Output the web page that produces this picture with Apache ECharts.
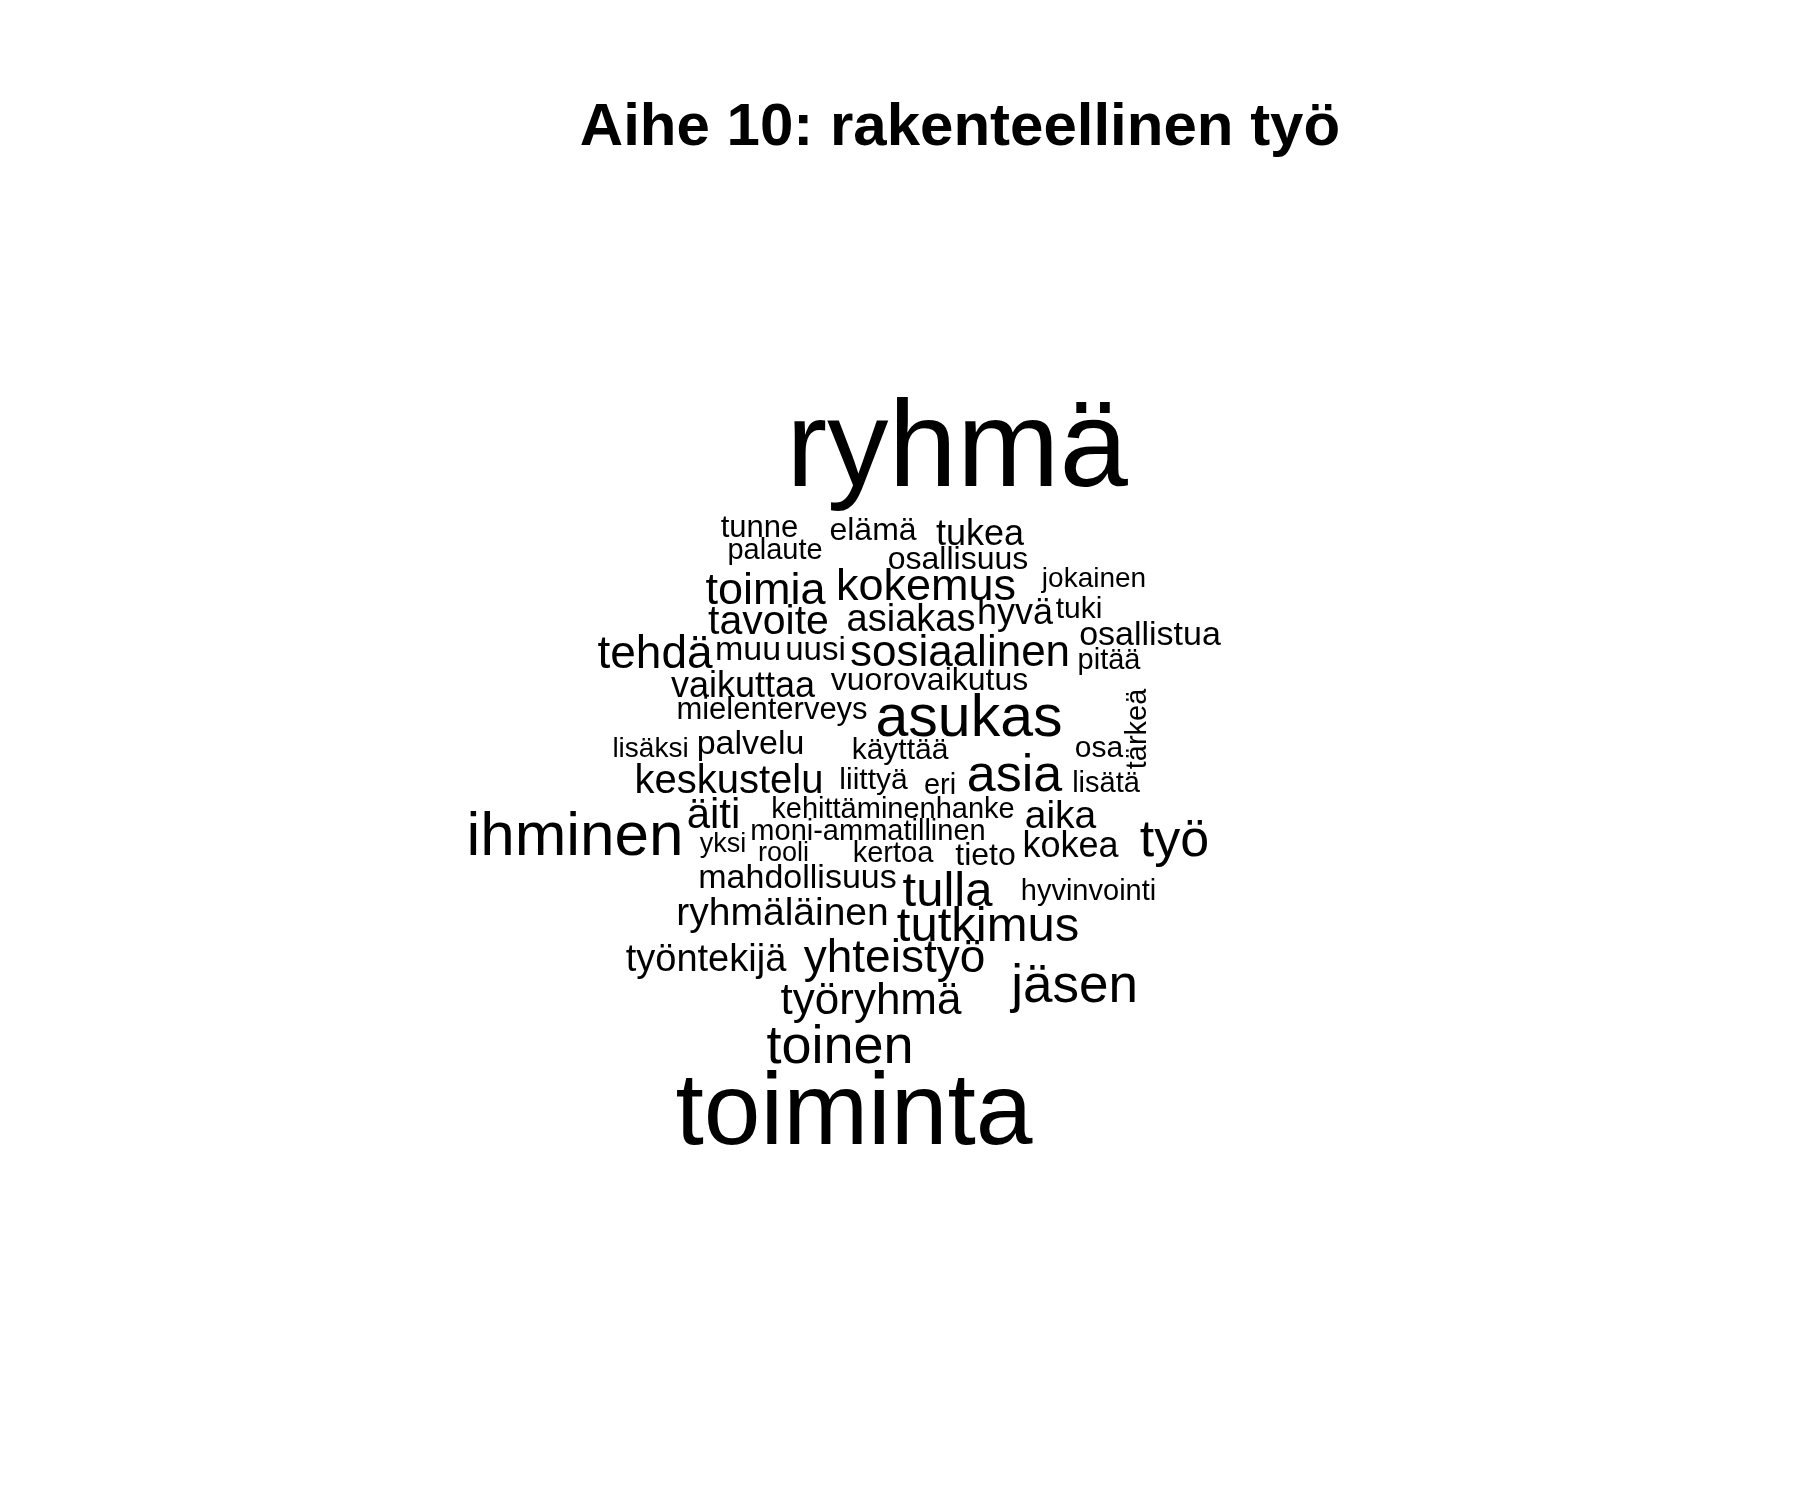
<!DOCTYPE html>
<html>
<head>
<meta charset="utf-8">
<script src="https://cdn.jsdelivr.net/npm/echarts@6/dist/echarts.min.js"></script>
<style>html,body{margin:0;padding:0;background:#fff}#c{width:1800px;height:1500px}</style>
</head>
<body>
<div id="c"></div>
<script>
// ---- data ----
const titleText = 'Aihe 10: rakenteellinen työ';
const words = ['ryhmä','toiminta','tunne','elämä','tukea','palaute','osallisuus','jokainen','toimia','kokemus',
  'tuki','tavoite','asiakas','hyvä','osallistua','pitää','tehdä','muu','uusi','sosiaalinen',
  'vaikuttaa','vuorovaikutus','mielenterveys','asukas','tärkeä','lisäksi','palvelu','käyttää','osa','asia',
  'keskustelu','liittyä','eri','lisätä','ihminen','äiti','kehittäminenhanke','aika','työ','moni-ammatillinen',
  'yksi','rooli','kertoa','tieto','kokea','mahdollisuus','tulla','hyvinvointi','ryhmäläinen','tutkimus',
  'työntekijä','yhteistyö','jäsen','työryhmä','toinen'];
const freq = [116,95,24,25,29,22,25,21,38,38,
  23,34,31,29,27,22,39,27,26,37,
  29,25,24,52,22,21,27,23,23,45,
  33,23,22,22,55,35,22,32,45,22,
  20,20,22,25,29,27,42,22,32,42,
  31,39,46,37,47];

// ---- layout (word cloud placement, in cloud coordinates) ----
const layoutX = [957,854,759.5,873,980,775,958,1094,765.5,926,
  1079,768.5,911,1015,1150,1109,655,748,815.5,960,
  743,929.5,772,969,1138,650.5,750.5,900,1099,1014.5,
  729,873.5,940,1106,575,713.5,893,1060.5,1174.5,868,
  723,783.5,893,985.5,1070.5,797.5,947.5,1088.5,782.5,988,
  706,894.5,1074.5,871,840];
const layoutY = [452,1116,528,531,535,551,560,579,592,588,
  610,623,621,614,636,661,655,651,651,654,
  687,681,710,720,729,749,745,751,749,777,
  782,781,786,784,838,816,810,817,842,832,
  845,854,854,856,847,879,892,892,914,927,
  961,959,987,1002,1048];
const layoutRotate = words.map(w => w === 'tärkeä' ? 90 : 0);

// ---- size scale ----
const fMin = Math.min(...freq), fMax = Math.max(...freq);
const sizeMin = 27, sizeMax = 123;
const sizeOf = f => sizeMin + (f - fMin) / (fMax - fMin) * (sizeMax - sizeMin);

const data = words.map((w, i) => ({
  name: w,
  value: [layoutX[i], layoutY[i], freq[i]],
  label: { fontSize: sizeOf(freq[i]), rotate: layoutRotate[i] }
}));

const chart = echarts.init(document.getElementById('c'), null, { renderer: 'canvas' });
chart.setOption({
  backgroundColor: '#ffffff',
  animation: false,
  title: {
    text: titleText,
    left: 955, top: 93, textAlign: 'center',
    textStyle: { fontFamily: 'Liberation Sans, Arial, sans-serif', fontWeight: 'bold', fontSize: 60, color: '#000' }
  },
  grid: { left: 0, right: 0, top: 0, bottom: 0 },
  xAxis: { type: 'value', min: 0, max: 1800, show: false },
  yAxis: { type: 'value', min: 0, max: 1500, inverse: true, show: false },
  series: [{
    type: 'scatter',
    symbolSize: 1,
    itemStyle: { color: 'transparent', opacity: 1 },
    label: {
      show: true, position: 'inside', formatter: p => p.name,
      color: '#000000', opacity: 1, fontFamily: 'Liberation Sans, Arial, sans-serif',
      align: 'center', verticalAlign: 'middle'
    },
    emphasis: { disabled: true },
    data: data
  }]
});
</script>
</body>
</html>
